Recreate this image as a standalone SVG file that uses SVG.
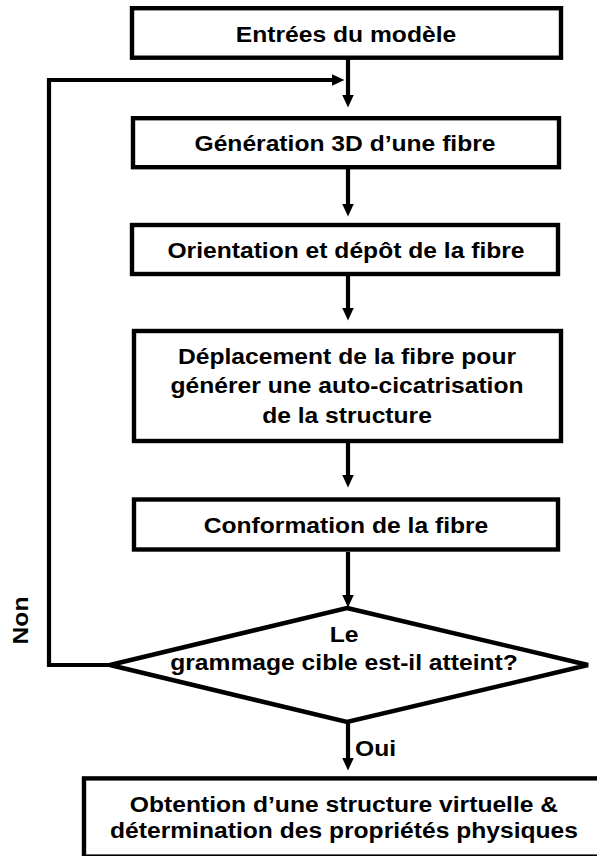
<svg xmlns="http://www.w3.org/2000/svg" width="597" height="856" viewBox="0 0 597 856">
<defs>
<style>
.box{fill:#fff;stroke:#000;stroke-width:4.4}
.t{font-family:"Liberation Sans",Arial,sans-serif;font-weight:bold;font-size:22px;fill:#000}
.c{text-anchor:middle}
.ln{fill:none;stroke:#000;stroke-width:4.2;stroke-linejoin:miter}
</style>
<marker id="ah" viewBox="0 0 13 12" refX="0.5" refY="6" markerWidth="13" markerHeight="12" markerUnits="userSpaceOnUse" orient="auto">
<path d="M0,0 L13,6 L0,12 z" fill="#000"/>
</marker>
</defs>
<rect width="597" height="856" fill="#fff"/>
<g id="connectors">
<line class="ln" x1="348" y1="59" x2="348" y2="95" marker-end="url(#ah)"/>
<polyline class="ln" points="110,665 49,665 49,80 332,80" marker-end="url(#ah)"/>
<line class="ln" x1="348" y1="169" x2="348" y2="204" marker-end="url(#ah)"/>
<line class="ln" x1="348" y1="276" x2="348" y2="308" marker-end="url(#ah)"/>
<line class="ln" x1="348" y1="443" x2="348" y2="475" marker-end="url(#ah)"/>
<line class="ln" x1="348" y1="552" x2="348" y2="595" marker-end="url(#ah)"/>
<line class="ln" x1="348" y1="722" x2="348" y2="758" marker-end="url(#ah)"/>
<text class="t" transform="translate(355,755.5) scale(1.12,1)">Oui</text>
<text class="t c" transform="translate(28,620.5) rotate(-90) scale(1.12,1)">Non</text>
</g>
<g id="n1">
<rect class="box" x="132" y="8.2" width="429" height="49.5"/>
<text class="t c" transform="translate(346,41.5) scale(1.12,1)">Entrées du modèle</text>
</g>
<g id="n2">
<rect class="box" x="133" y="118.2" width="426" height="49"/>
<text class="t c" transform="translate(345,151) scale(1.12,1)">Génération 3D d’une fibre</text>
</g>
<g id="n3">
<rect class="box" x="132" y="225" width="426" height="49"/>
<text class="t c" transform="translate(346,258) scale(1.12,1)">Orientation et dépôt de la fibre</text>
</g>
<g id="n4">
<rect class="box" x="134" y="331" width="427" height="110"/>
<text class="t c" transform="translate(347,364) scale(1.12,1)"><tspan x="0" y="0">Déplacement de la fibre pour</tspan><tspan x="0" y="29.5">générer une auto-cicatrisation</tspan><tspan x="0" y="59">de la structure</tspan></text>
</g>
<g id="n5">
<rect class="box" x="134" y="499.5" width="424" height="50"/>
<text class="t c" transform="translate(346,533) scale(1.12,1)">Conformation de la fibre</text>
</g>
<g id="n6">
<polygon class="box" points="347,608 588,665 347,722 110,665"/>
<text class="t c" transform="translate(344,641.5) scale(1.12,1)"><tspan x="0" y="0">Le</tspan><tspan x="0" y="28.5">grammage cible est-il atteint?</tspan></text>
</g>
<g id="n7">
<rect class="box" x="84" y="778.4" width="530" height="78.2"/>
<text class="t c" transform="translate(344,811.7) scale(1.12,1)"><tspan x="0" y="0">Obtention d’une structure virtuelle &amp;</tspan><tspan x="0" y="26.8">détermination des propriétés physiques</tspan></text>
</g>
</svg>
